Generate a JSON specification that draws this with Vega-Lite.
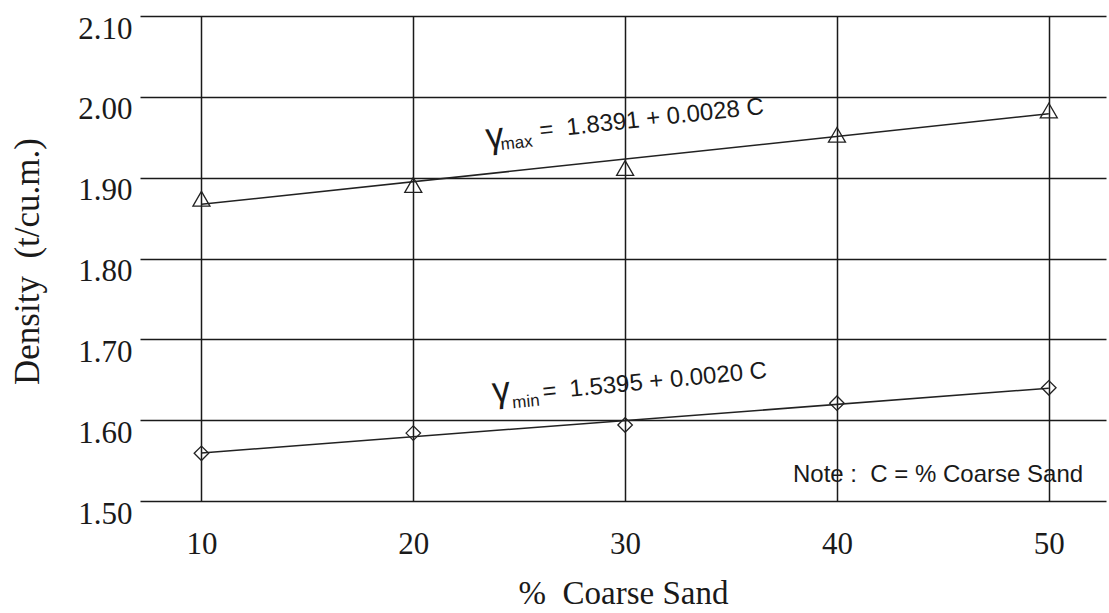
{
  "$schema": "https://vega.github.io/schema/vega-lite/v6.json",
  "autosize": {"type": "none"},
  "padding": {"left": 140, "top": 16, "right": 3, "bottom": 112},
  "width": 966,
  "height": 485,
  "background": "white",
  "config": {
    "view": {"stroke": null},
    "axis": {
      "domain": false,
      "ticks": false,
      "tickSize": 0,
      "grid": true,
      "gridColor": "#1a1a1a",
      "gridWidth": 1.5,
      "gridOpacity": 1,
      "labelFont": "Liberation Serif",
      "labelFontSize": 31,
      "labelColor": "#1a1a1a",
      "titleFont": "Liberation Serif",
      "titleColor": "#1a1a1a",
      "titleFontWeight": "normal"
    }
  },
  "layer": [
    {
      "data": {"values": [
        {"series": "max", "C": 10, "density": 1.867},
        {"series": "max", "C": 50, "density": 1.979},
        {"series": "min", "C": 10, "density": 1.5595},
        {"series": "min", "C": 50, "density": 1.6395}
      ]},
      "mark": {"type": "line", "color": "#222222", "strokeWidth": 1.5},
      "encoding": {
        "x": {"field": "C", "type": "quantitative", "scale": {"domain": [7.1, 52.7], "nice": false, "zero": false},
              "axis": {"values": [10, 20, 30, 40, 50], "title": "%\u00a0\u00a0Coarse Sand", "titleFontSize": 33, "titleY": 102, "titleBaseline": "alphabetic", "labelBaseline": "alphabetic", "labelPadding": 52}},
        "y": {"field": "density", "type": "quantitative", "scale": {"domain": [1.5, 2.1], "nice": false, "zero": false},
              "axis": {"values": [1.5, 1.6, 1.7, 1.8, 1.9, 2.0, 2.1], "format": ".2f", "title": "Density\u00a0\u00a0(t/cu.m.)", "titleFontSize": 35, "titleX": -102, "titleY": 245, "titleAngle": 270, "titleBaseline": "alphabetic", "labelBaseline": "alphabetic", "labelOffset": 22, "labelPadding": 8}},
        "detail": {"field": "series"}
      }
    },
    {
      "data": {"values": [
        {"series": "max", "C": 10, "density": 1.874},
        {"series": "max", "C": 20, "density": 1.891},
        {"series": "max", "C": 30, "density": 1.912},
        {"series": "max", "C": 40, "density": 1.953},
        {"series": "max", "C": 50, "density": 1.983},
        {"series": "min", "C": 10, "density": 1.559},
        {"series": "min", "C": 20, "density": 1.584},
        {"series": "min", "C": 30, "density": 1.594},
        {"series": "min", "C": 40, "density": 1.621},
        {"series": "min", "C": 50, "density": 1.640}
      ]},
      "mark": {"type": "point", "filled": false, "stroke": "#222222", "strokeWidth": 1.3, "opacity": 1},
      "encoding": {
        "x": {"field": "C", "type": "quantitative"},
        "y": {"field": "density", "type": "quantitative"},
        "shape": {"field": "series", "type": "nominal", "scale": {"domain": ["max", "min"], "range": ["triangle-up", "diamond"]}, "legend": null},
        "size": {"field": "series", "type": "nominal", "scale": {"domain": ["max", "min"], "range": [290, 210]}, "legend": null}
      }
    },
    {
      "data": {"values": [
        {"series": "max", "C": 23.48, "density": 1.9361, "label": "γ"},
        {"series": "min", "C": 23.77, "density": 1.6218, "label": "γ"}
      ]},
      "mark": {"type": "text", "font": "Liberation Sans", "fontSize": 36, "align": "left", "baseline": "alphabetic", "color": "#1a1a1a"},
      "encoding": {
        "x": {"field": "C", "type": "quantitative"},
        "y": {"field": "density", "type": "quantitative"},
        "text": {"field": "label"},
        "angle": {"field": "series", "type": "nominal", "scale": {"domain": ["max", "min"], "range": [353.8, 354.5]}, "legend": null}
      }
    },
    {
      "data": {"values": [
        {"series": "max", "C": 24.15, "density": 1.9342, "label": "max"},
        {"series": "min", "C": 24.70, "density": 1.6147, "label": "min"}
      ]},
      "mark": {"type": "text", "font": "Liberation Sans", "fontSize": 17, "align": "left", "baseline": "alphabetic", "color": "#1a1a1a"},
      "encoding": {
        "x": {"field": "C", "type": "quantitative"},
        "y": {"field": "density", "type": "quantitative"},
        "text": {"field": "label"},
        "angle": {"field": "series", "type": "nominal", "scale": {"domain": ["max", "min"], "range": [353.8, 354.5]}, "legend": null}
      }
    },
    {
      "data": {"values": [
        {"series": "max", "C": 25.99, "density": 1.9489, "label": "=\u00a0\u00a01.8391 + 0.0028 C"},
        {"series": "min", "C": 26.13, "density": 1.6256, "label": "=\u00a0\u00a01.5395 + 0.0020 C"}
      ]},
      "mark": {"type": "text", "font": "Liberation Sans", "fontSize": 24, "align": "left", "baseline": "alphabetic", "color": "#1a1a1a"},
      "encoding": {
        "x": {"field": "C", "type": "quantitative"},
        "y": {"field": "density", "type": "quantitative"},
        "text": {"field": "label"},
        "angle": {"field": "series", "type": "nominal", "scale": {"domain": ["max", "min"], "range": [353.8, 354.5]}, "legend": null}
      }
    },
    {
      "data": {"values": [
        {"C": 51.62, "density": 1.5235, "label": "Note :\u00a0\u00a0C = % Coarse Sand"}
      ]},
      "mark": {"type": "text", "font": "Liberation Sans", "fontSize": 24, "align": "right", "baseline": "alphabetic", "color": "#1a1a1a"},
      "encoding": {
        "x": {"field": "C", "type": "quantitative"},
        "y": {"field": "density", "type": "quantitative"},
        "text": {"field": "label"}
      }
    }
  ]
}
